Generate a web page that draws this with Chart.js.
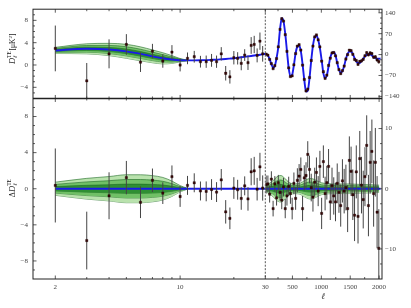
<!DOCTYPE html>
<html><head><meta charset="utf-8">
<script src="https://cdn.jsdelivr.net/npm/chart.js@4.4.1/dist/chart.umd.min.js"></script>
<style>html,body{margin:0;padding:0;background:#fff;}canvas{display:block;}</style>
</head><body>
<canvas id="c" width="411" height="308"></canvas>
<script>
// ---------- low-ell (log axis) ----------
const ellLow = [2,3,4,5,6,7,8,9,10,11,12,13,14,15,16,17,18,19,20,21,22,23,24,25,26,27,28,29];
const teLow  = [2.97,-2.84,2.00,3.68,0.50,2.49,0.71,2.31,0.00,1.19,1.48,0.59,0.59,0.83,0.59,2.00,-1.48,-2.13,1.30,1.19,0.30,1.78,0.41,3.50,3.68,1.72,4.27,2.00];
const errLow = [4.1,3.2,2.6,1.85,1.75,1.3,1.2,1.25,1.15,1.05,1.05,1.05,1.1,1.15,1.1,1.2,1.3,1.2,1.2,1.1,1.25,1.05,1.3,1.5,1.55,1.25,1.55,1.4];
const thLowEll = [2,3,4,5,6,7,8,9,10,11,12,13,14,15,16,17,18,19,20,21,22,23,24,25,26,27,28,29,30];
const thLow    = [2.61,2.90,2.78,2.45,2.00,1.55,1.20,0.98,0.86,0.82,0.82,0.84,0.88,0.92,0.96,1.02,1.08,1.15,1.22,1.30,1.38,1.46,1.54,1.62,1.70,1.77,1.84,1.92,2.00];
const bandLowEll = [2,3,4,5,6,7,8,9,10,11];
const bandLowTop = [0.55,0.9,1.1,1.25,1.25,1.15,1.0,0.7,0.3,0.05];
const bandLowRes = [0.73,1.15,1.35,1.55,1.55,1.45,1.25,0.85,0.35,0.05];

// ---------- high-ell (linear axis) ----------
const ellHigh = [45,75,105,135,165,195,225,255,285,315,345,375,405,435,465,495,525,555,585,615,
  645,675,705,735,765,795,825,855,885,915,945,975,1005,1035,1065,1095,1125,1155,1185,1215,
  1245,1275,1305,1335,1365,1395,1425,1455,1485,1515,1545,1575,1605,1635,1665,1695,1725,1755,1785,1815,
  1845,1875,1905,1935,1965,1995];
const thHigh = [1,-3,-15,-32,-44,-38,-12,25,85,122,112,70,12,-45,-73,-68,-35,5,27,31,
  12,-32,-85,-124,-121,-80,-20,30,58,63,50,22,-18,-62,-79,-70,-40,-10,5,8,
  -2,-28,-50,-61,-55,-38,-15,3,10,10,2,-12,-23,-28,-28,-22,-14,-6,-1,2,
  1,-3,-8,-12,-14,-14];
const resHigh = [0.7,0.8,-0.9,1.6,-3.3,0.8,-1.5,1.0,-0.6,-1.9,0.3,-3.3,-1.2,0.4,-0.8,-3.3,0.9,-1.6,1.4,2.1,
  3.2,-3.3,1.8,2.2,5.7,3.2,0.2,-1.4,1.1,2.7,-0.4,3.7,-4.1,4.5,-0.8,1.0,3.7,-2.2,0.5,-1.2,
  -2.2,0.9,-0.6,-2.8,1.3,-0.4,0.2,-3.3,4.7,2.9,-1.0,-4.4,2.8,-4.6,5.0,0.6,-1.8,2.0,7.2,-2.8,
  4.4,6.2,-0.8,4.4,-3.9,-9.9];
const errHigh = [1.5,1.4,1.4,1.3,1.3,1.3,1.3,1.3,1.4,1.5,1.5,1.6,1.6,1.6,1.7,1.8,1.8,1.9,2.0,2.0,
  2.0,2.1,2.1,2.2,2.2,2.3,2.3,2.4,2.4,2.5,2.5,2.6,2.6,2.7,2.8,2.8,2.9,3.0,3.0,3.1,
  3.2,3.3,3.4,3.5,3.6,3.7,3.8,3.9,4.0,4.1,4.2,4.3,4.4,4.5,4.6,4.7,4.8,4.9,5.0,5.1,
  5.2,5.3,5.5,5.7,6.0,6.5];
const thEdgeEll = [30, 2025];
const thEdge    = [2, -13];
const bandHighEll = [30,60,100,150,200,250,300,350,400,450,500,550,600,650,700,750,800,850,900,950,1000,1050,1100,1200,1300,1400,1500,1600,1700,1800,1900,2000];
const bandHigh    = [0.3,0.6,0.9,1.2,1.7,2.1,2.2,1.9,1.4,1.0,0.85,0.8,0.85,1.0,1.3,1.55,1.7,1.65,1.45,1.2,1.0,0.9,0.85,0.8,0.8,0.8,0.8,0.75,0.7,0.7,0.65,0.6];

// ---------- ticks ----------
const ticksTL = [8,4,0,-4];
const ticksBL = [8,4,0,-4,-8];
const ticksTR = [140,70,0,-70,-140];
const ticksBR = [10,0,-10];
const ticksXL = [2,10,30];
const ticksXR = [500,1000,1500,2000];
const minorTL = [9,7,6,5,3,2,1,-1,-2,-3,-5];
const minorBL = [9,7,6,5,3,2,1,-1,-2,-3,-5,-6,-7,-9];
const minorTR = [122.5,105,87.5,52.5,35,17.5,-17.5,-35,-52.5,-87.5,-105,-122.5];
const minorBR = [12.5,7.5,5,2.5,-2.5,-5,-7.5,-12.5];
const minorXL = [3,4,5,6,7,8,9,20];
const minorXR = [250,750,1250,1750];

const fmt = v => String(v).replace('-', '\u2212');
const P = (xs, ys) => xs.map((x, i) => ({x, y: ys[i]}));

const ptStyle = {type:'line', showLine:false, pointStyle:'rect', pointRadius:1.6,
  pointBackgroundColor:'#3a0707', pointBorderColor:'#180000', pointBorderWidth:0.4};
const lineStyle = {type:'line', borderColor:'#1a1ae8', borderWidth:1.9, pointRadius:0,
  cubicInterpolationMode:'monotone', fill:false};

const resLow = teLow.map((v, i) => v - thLow[i]);
const teHigh = thHigh.map((v, i) => v + resHigh[i]);
const thHighFull = P([thEdgeEll[0]], [thEdge[0]]).concat(P(ellHigh, thHigh), P([thEdgeEll[1]], [thEdge[1]]));

const datasets = [
  Object.assign({data: P(ellLow, teLow), errs: errLow, xAxisID:'xl', yAxisID:'yTL'}, ptStyle),
  Object.assign({data: P(ellHigh, teHigh), errs: errHigh, xAxisID:'xr', yAxisID:'yTR'}, ptStyle),
  Object.assign({data: P(ellLow, resLow), errs: errLow, xAxisID:'xl', yAxisID:'yBL'}, ptStyle),
  Object.assign({data: P(ellHigh, resHigh), errs: errHigh, xAxisID:'xr', yAxisID:'yBR'}, ptStyle),
  Object.assign({data: P(thLowEll, thLow), xAxisID:'xl', yAxisID:'yTL'}, lineStyle),
  Object.assign({data: thHighFull, xAxisID:'xr', yAxisID:'yTR'}, lineStyle),
  Object.assign({data: P([2, 30], [0, 0]), xAxisID:'xl', yAxisID:'yBL'}, lineStyle),
  Object.assign({data: P([30, 2025], [0, 0]), xAxisID:'xr', yAxisID:'yBR'}, lineStyle),
];
const levels = [{f:0.33, c:'#2f8f33'}, {f:0.66, c:'#70c066'}, {f:1.0, c:'#b9e2ad'}];
const bandStyle = {type:'line', borderColor:'#1f6a25', borderWidth:0.6, pointRadius:0, cubicInterpolationMode:'monotone'};
levels.forEach(L => {
  const panels = [
    {xs: bandLowEll, c: bandLowEll.map((e, i) => thLow[i]), w: bandLowTop, x:'xl', y:'yTL'},
    {xs: bandLowEll, c: bandLowEll.map(() => 0), w: bandLowRes, x:'xl', y:'yBL'},
    {xs: bandHighEll, c: bandHighEll.map(() => 0), w: bandHigh, x:'xr', y:'yBR'},
  ];
  panels.forEach(p => {
    datasets.push(Object.assign({data: P(p.xs, p.c.map((c, i) => c + L.f * p.w[i])), xAxisID:p.x, yAxisID:p.y,
      fill:'+1', backgroundColor:L.c}, bandStyle));
    datasets.push(Object.assign({data: P(p.xs, p.c.map((c, i) => c - L.f * p.w[i])), xAxisID:p.x, yAxisID:p.y,
      fill:false}, bandStyle));
  });
});

const tickFont = {family:'Liberation Serif', size:7};
function yAxis(pos, min, max, ticks, weight, sw, width, pad) {
  return {type:'linear', position:pos, min, max, stack: pos, stackWeight: sw, weight,
    grid:{display:false, drawTicks:false}, border:{display:false},
    afterBuildTicks: sc => { sc.ticks = ticks.map(v => ({value:v})); },
    afterFit: sc => { sc.width = width; },
    ticks:{font:tickFont, color:'#444', padding:pad, autoSkip:false, callback: v => fmt(v)}};
}
function xAxis(type, min, max, ticks, weight, sw) {
  return {type, position:'bottom', min, max, stack:'bottom', stackWeight: sw, weight,
    grid:{display:false, drawTicks:false}, border:{display:false},
    afterBuildTicks: sc => { sc.ticks = ticks.map(v => ({value:v})); },
    afterFit: sc => { sc.height = 29; },
    ticks:{font:tickFont, color:'#444', padding:4, autoSkip:false, maxRotation:0, callback: v => fmt(v)}};
}

const errPlugin = {
  id:'errbars',
  beforeDatasetDraw(chart, args) {
    const ds = chart.data.datasets[args.index];
    if (!ds.errs) return;
    const xs = chart.scales[ds.xAxisID], ys = chart.scales[ds.yAxisID], ctx = chart.ctx;
    ctx.save();
    ctx.beginPath();
    ctx.rect(xs.left, ys.top, xs.right - xs.left, ys.bottom - ys.top);
    ctx.clip();
    ctx.strokeStyle = '#444'; ctx.lineWidth = 1;
    ds.data.forEach((p, i) => {
      const x = xs.getPixelForValue(p.x);
      ctx.beginPath();
      ctx.moveTo(x, ys.getPixelForValue(p.y - ds.errs[i]));
      ctx.lineTo(x, ys.getPixelForValue(p.y + ds.errs[i]));
      ctx.stroke();
    });
    ctx.restore();
  }
};

function drawRot(ctx, cx, cy, parts) {
  ctx.save();
  ctx.translate(cx, cy); ctx.rotate(-Math.PI / 2);
  let w = 0;
  parts.forEach(p => { ctx.font = p.font; p.w = ctx.measureText(p.t).width; if (!p.stack) w += p.adv != null ? p.adv : p.w; });
  let x = -w / 2, last = 0;
  ctx.fillStyle = '#222'; ctx.textBaseline = 'alphabetic';
  parts.forEach(p => {
    ctx.font = p.font;
    if (p.stack) { ctx.fillText(p.t, x - last, p.dy || 0); return; }
    ctx.fillText(p.t, x, p.dy || 0);
    last = p.adv != null ? p.adv : p.w;
    x += last;
  });
  ctx.restore();
}

const deco = {
  id:'deco',
  afterDatasetsDraw(chart) {
    const {ctx, chartArea: ca, scales: s} = chart;
    ctx.save();
    const x30 = s.xl.getPixelForValue(30);
    ctx.strokeStyle = '#555'; ctx.lineWidth = 1; ctx.setLineDash([2, 1.5]);
    ctx.beginPath(); ctx.moveTo(x30, ca.top); ctx.lineTo(x30, ca.bottom); ctx.stroke();
    ctx.setLineDash([]);
    ctx.strokeStyle = '#333'; ctx.lineWidth = 0.8;
    const yt = (sc, vals, len, side) => vals.forEach(v => {
      const y = sc.getPixelForValue(v);
      const x0 = side < 0 ? ca.left : ca.right;
      ctx.beginPath(); ctx.moveTo(x0, y); ctx.lineTo(x0 - side * len, y); ctx.stroke();
    });
    yt(s.yTL, ticksTL, 3.5, -1); yt(s.yTL, minorTL, 2, -1);
    yt(s.yBL, ticksBL, 3.5, -1); yt(s.yBL, minorBL, 2, -1);
    yt(s.yTR, ticksTR, 3.5, 1); yt(s.yTR, minorTR, 2, 1);
    yt(s.yBR, ticksBR, 3.5, 1); yt(s.yBR, minorBR, 2, 1);
    const yd = s.yTL.bottom;
    const xt = (sc, vals, len) => vals.forEach(v => {
      const x = sc.getPixelForValue(v);
      [[ca.bottom, -1], [yd, -1], [yd, 1], [ca.top, 1]].forEach(([y0, d]) => {
        ctx.beginPath(); ctx.moveTo(x, y0); ctx.lineTo(x, y0 + d * len); ctx.stroke();
      });
    });
    xt(s.xl, ticksXL, 3.5); xt(s.xl, minorXL, 2);
    xt(s.xr, ticksXR, 3.5); xt(s.xr, minorXR, 2);
    ctx.strokeStyle = '#222'; ctx.lineWidth = 1;
    ctx.strokeRect(ca.left, ca.top, ca.right - ca.left, ca.bottom - ca.top);
    ctx.lineWidth = 1.4;
    ctx.beginPath(); ctx.moveTo(ca.left, yd); ctx.lineTo(ca.right, yd); ctx.stroke();
    ctx.restore();
  },
  afterDraw(chart) {
    const ctx = chart.ctx, s = chart.scales;
    const F = 'Liberation Serif';
    const cyT = (s.yTL.top + s.yTL.bottom) / 2 - 5;
    drawRot(ctx, 15, cyT, [
      {t:'D', font:`italic 8.5px "${F}"`},
      {t:'\u2113', font:`italic 5.5px "${F}"`, dy:1.8, adv:5.5},
      {t:'TE', font:`5.5px "${F}"`, dy:-3.6, stack:true},
      {t:' [\u03bcK', font:`7.5px "${F}"`},
      {t:'2', font:`5px "${F}"`, dy:-3},
      {t:']', font:`7.5px "${F}"`},
    ]);
    drawRot(ctx, 15, s.yBL.getPixelForValue(0), [
      {t:'\u0394', font:`8px "${F}"`},
      {t:'D', font:`italic 8.5px "${F}"`},
      {t:'\u2113', font:`italic 5.5px "${F}"`, dy:1.8, adv:5.5},
      {t:'TE', font:`5.5px "${F}"`, dy:-3.6, stack:true},
    ]);
    ctx.save();
    ctx.fillStyle = '#222'; ctx.font = `italic 8.5px "${F}"`;
    ctx.textAlign = 'center'; ctx.textBaseline = 'middle';
    ctx.fillText('\u2113', 323, 297);
    ctx.restore();
  }
};

new Chart(document.getElementById('c'), {
  data: {datasets},
  options: {
    responsive:false, animation:false, devicePixelRatio:1,
    layout:{padding:{top:7, left:0, right:0, bottom:0}},
    plugins:{legend:{display:false}, tooltip:{enabled:false}},
    scales:{
      yTL: yAxis('left', -6, 10, ticksTL, 2, 90, 33, 5),
      yBL: yAxis('left', -10, 10, ticksBL, 1, 182, 33, 5),
      yTR: yAxis('right', -147, 152, ticksTR, 1, 90, 29, 3),
      yBR: yAxis('right', -15, 15, ticksBR, 2, 182, 29, 3),
      xl: xAxis('logarithmic', 1.5, 30, ticksXL, 1, 232.3),
      xr: xAxis('linear', 30, 2050, ticksXR, 2, 116.7),
    }
  },
  plugins:[errPlugin, deco]
});
</script>
</body></html>
